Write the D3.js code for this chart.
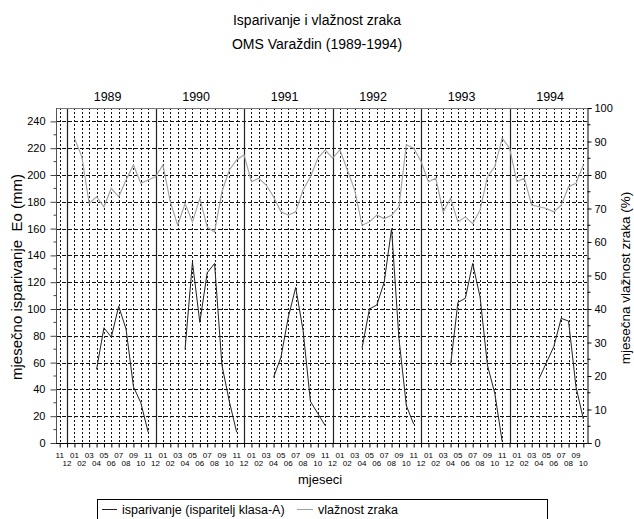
<!DOCTYPE html>
<html>
<head>
<meta charset="utf-8">
<script src="https://cdn.jsdelivr.net/npm/d3@7"></script>
<style>
  body { margin: 0; background: #fff; }
  text { font-family: "Liberation Sans", Arial, sans-serif; fill: #000; }
</style>
</head>
<body>
<svg id="chart" width="634" height="519"></svg>
<script>
// mjeseci: studeni i prosinac 1988, pa sijecanj 1989 - listopad 1994
const years = [1989, 1990, 1991, 1992, 1993, 1994];
const monthNames = ["01","02","03","04","05","06","07","08","09","10","11","12"];
const months = ["11", "12"];
years.forEach(y => {
  const n = y === 1994 ? 10 : 12;
  monthNames.slice(0, n).forEach(m => months.push(m));
});

// vlaznost zraka (%)
const vlaznost = [null, null,
  91, 85.5, 71.5, 73.5, 70.5, 76, 73.5, 78.5, 83, 77.5, 78.5, 79.5,
  83, 72, 65, 71.5, 66, 73, 64.5, 63, 75, 81.5, 84.5, 86,
  78, 79, 77, 73.5, 69, 68, 69, 75.5, 79.5, 85, 87.5, 85,
  87.5, 81.5, 75.5, 65, 66, 68, 67, 68, 70.5, 89, 88, 84,
  78, 79, 69, 73, 66, 67.5, 65.5, 69.5, 79.5, 82.5, 91, 88,
  78, 79, 71, 70.5, 70, 69, 71, 76.5, 77.5, 83];

// mjesecno isparivanje Eo (mm)
const isparivanje = [null, null,
  null, null, null, 55, 86, 79, 102, 85, 42, 30, 8, null,
  null, null, null, 70, 135, 90, 127, 134, 58, 31, 8, null,
  null, null, null, 49, 64, 94, 116, 84, 31, 22, 13, null,
  null, null, null, 71, 100, 103, 120, 160, 78, 28, 14, null,
  null, null, null, 58, 105, 108, 134, 109, 58, 37, 1, null,
  null, null, null, 48, 60, 72, 93, 91, 42, 18];

const leftTicks = [0, 20, 40, 60, 80, 100, 120, 140, 160, 180, 200, 220, 240];
const rightTicks = [0, 10, 20, 30, 40, 50, 60, 70, 80, 90, 100];

const svg = d3.select("#chart");
const pL = 56, pR = 587, pT = 108, pB = 443;

const x = d3.scalePoint().domain(d3.range(months.length)).range([pL, pR]).padding(0.5);
const yL = d3.scaleLinear().domain([0, 250]).range([pB, pT]);
const yR = d3.scaleLinear().domain([0, 100]).range([pB, pT]);

// naslov
svg.append("text").attr("x", 317).attr("y", 25).attr("text-anchor", "middle")
  .style("font-size", "14px").text("Isparivanje i vlažnost zraka");
svg.append("text").attr("x", 317).attr("y", 49).attr("text-anchor", "middle")
  .style("font-size", "14px").text("OMS Varaždin (1989-1994)");

// mreza
const decIdx = d3.range(months.length).filter(i => months[i] === "12");
svg.append("g").selectAll("line").data(d3.range(months.length).filter(i => months[i] !== "12"))
  .join("line")
  .attr("x1", d => Math.round(x(d)) + 0.5).attr("x2", d => Math.round(x(d)) + 0.5)
  .attr("y1", pT).attr("y2", pB)
  .attr("stroke", "#111").attr("stroke-width", 1).attr("stroke-dasharray", "2,2");
svg.append("g").selectAll("line").data(leftTicks.filter(d => d > 0))
  .join("line")
  .attr("x1", pL).attr("x2", pR)
  .attr("y1", d => Math.round(yL(d)) + 0.5).attr("y2", d => Math.round(yL(d)) + 0.5)
  .attr("stroke", "#111").attr("stroke-width", 1).attr("stroke-dasharray", "4,2");

// granice godina
svg.append("g").selectAll("line").data(decIdx)
  .join("line")
  .attr("x1", d => Math.round(x(d)) + 0.5).attr("x2", d => Math.round(x(d)) + 0.5)
  .attr("y1", pT).attr("y2", pB)
  .attr("stroke", "#222").attr("stroke-width", 1.2);

// okvir
svg.append("line").attr("x1", pL).attr("x2", pR).attr("y1", pT + 0.5).attr("y2", pT + 0.5)
  .attr("stroke", "#777");
svg.append("line").attr("x1", pL + 0.5).attr("x2", pL + 0.5).attr("y1", pT).attr("y2", pB)
  .attr("stroke", "#555");

// godine
svg.append("g").selectAll("text").data(years)
  .join("text")
  .attr("x", (d, i) => x(decIdx[i]) + 5.5 * x.step())
  .attr("y", 101)
  .attr("text-anchor", "middle")
  .style("font-size", "12.5px")
  .text(d => d);

// lijeva os
const axL = svg.append("g").attr("transform", `translate(${pL + 0.5},0)`)
  .call(d3.axisLeft(yL).tickValues(leftTicks).tickSize(6).tickPadding(5).tickFormat(d3.format("d")));
axL.select(".domain").remove();
axL.selectAll("line").attr("stroke", "#444");
axL.selectAll("text").style("font-size", "11px").style("font-family", "Liberation Sans, Arial, sans-serif");
axL.append("g").selectAll("line").data(d3.range(10, 250, 20)).join("line")
  .attr("x1", -3).attr("x2", 0).attr("y1", d => yL(d)).attr("y2", d => yL(d)).attr("stroke", "#444");

// desna os
const axR = svg.append("g").attr("transform", `translate(${pR + 0.5},0)`)
  .call(d3.axisRight(yR).tickValues(rightTicks).tickSize(4).tickPadding(3));
axR.select(".domain").attr("stroke", "#000");
axR.selectAll("text").style("font-size", "11px").style("font-family", "Liberation Sans, Arial, sans-serif");
axR.append("g").selectAll("line").data(d3.range(5, 100, 10)).join("line")
  .attr("x1", 0).attr("x2", 3).attr("y1", d => yR(d)).attr("y2", d => yR(d)).attr("stroke", "#000");

// donja os
const axB = svg.append("g").attr("transform", `translate(0,${pB + 0.5})`)
  .call(d3.axisBottom(x).tickSize(4).tickFormat(""));
axB.select(".domain").attr("d", `M${pL},0H${pR + 0.5}`).attr("stroke", "#000");
axB.selectAll("line").attr("stroke", "#000");
svg.append("g").selectAll("text").data(d3.range(months.length))
  .join("text")
  .attr("x", d => x(d))
  .attr("y", d => d % 2 === 0 ? 457.5 : 466)
  .attr("text-anchor", "middle")
  .style("font-size", "8px")
  .text(d => months[d]);

svg.append("text").attr("x", 320).attr("y", 484).attr("text-anchor", "middle")
  .style("font-size", "13px").text("mjeseci");

// naslovi osi
svg.append("text").attr("transform", "translate(22,277) rotate(-90)")
  .attr("text-anchor", "middle").style("font-size", "15px").style("white-space", "pre")
  .text("mjesečno isparivanje  Eo (mm)");
svg.append("text").attr("transform", "translate(630,278) rotate(-90)")
  .attr("text-anchor", "middle").style("font-size", "13.5px")
  .text("mjesečna vlažnost zraka (%)");

// serije
const idx = d3.range(months.length);
svg.append("path")
  .datum(idx)
  .attr("fill", "none").attr("stroke", "#a0a0a0").attr("stroke-width", 1.1)
  .attr("d", d3.line().defined(i => vlaznost[i] != null).x(i => x(i)).y(i => yR(vlaznost[i])));
svg.append("path")
  .datum(idx)
  .attr("fill", "none").attr("stroke", "#222").attr("stroke-width", 1)
  .attr("d", d3.line().defined(i => isparivanje[i] != null).x(i => x(i)).y(i => yL(isparivanje[i])));

// legenda
const lg = svg.append("g");
lg.append("rect").attr("x", 97.5).attr("y", 499.5).attr("width", 450).attr("height", 30)
  .attr("fill", "#fff").attr("stroke", "#000");
lg.append("line").attr("x1", 102).attr("x2", 117).attr("y1", 509.5).attr("y2", 509.5).attr("stroke", "#222");
lg.append("text").attr("x", 122).attr("y", 513.5).style("font-size", "12.5px").text("isparivanje (isparitelj klasa-A)");
lg.append("line").attr("x1", 297).attr("x2", 313).attr("y1", 509.5).attr("y2", 509.5).attr("stroke", "#a0a0a0");
lg.append("text").attr("x", 318).attr("y", 513.5).style("font-size", "12.5px").text("vlažnost zraka");
</script>
</body>
</html>
